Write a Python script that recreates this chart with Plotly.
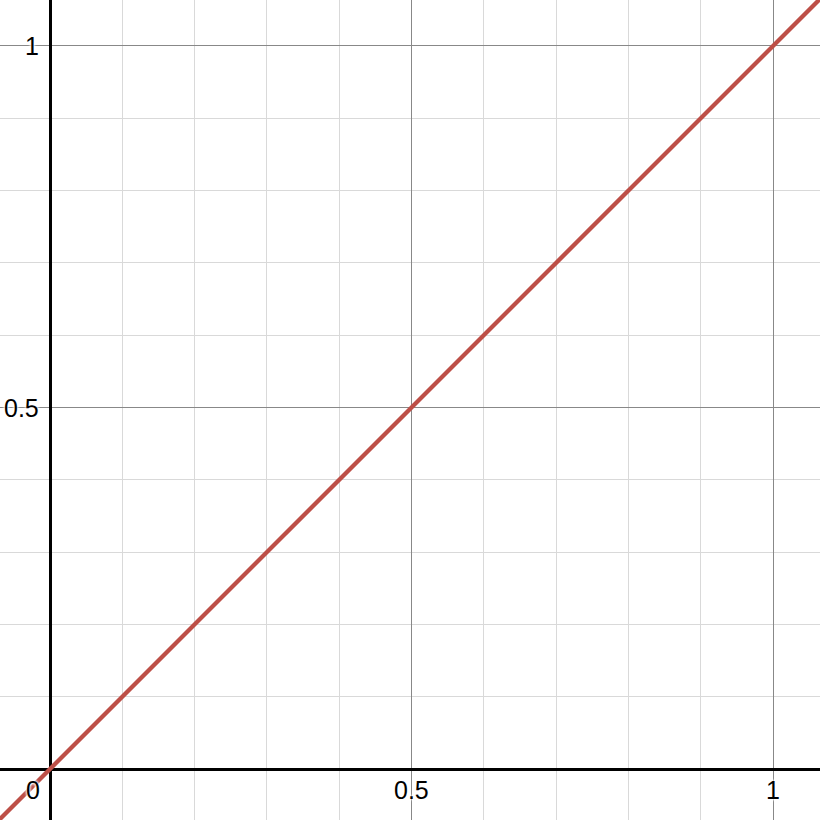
import plotly.graph_objects as go

# y = x line
line_x = [-0.1, 0, 0.5, 1, 1.1]
line_y = [-0.1, 0, 0.5, 1, 1.1]

x_ticks = [0.5, 1]
x_tick_labels = ["0.5", "1"]
y_ticks = [0.5, 1]
y_tick_labels = ["0.5", "1"]

RED = "#bd4f47"
FONT = "Liberation Sans, Arial, sans-serif"
HALO = "0px 0px 3px white, 0px 0px 3px white, 0px 0px 3px white"

fig = go.Figure()
fig.add_trace(go.Scatter(x=line_x, y=line_y, mode="lines",
                         line=dict(color=RED, width=4.3), hoverinfo="skip"))

annotations = []
for v, t in zip(x_ticks, x_tick_labels):
    annotations.append(dict(x=v, y=0, xref="x", yref="y", text=t, showarrow=False,
                            xanchor="center", yanchor="top", yshift=-5,
                            font=dict(family=FONT, size=25, color="black", shadow=HALO)))
for v, t in zip(y_ticks, y_tick_labels):
    annotations.append(dict(x=0, y=v, xref="x", yref="y", text=t, showarrow=False,
                            xanchor="right", yanchor="middle", xshift=-9,
                            font=dict(family=FONT, size=25, color="black", shadow=HALO)))
annotations.append(dict(x=0, y=0, xref="x", yref="y", text="0", showarrow=False,
                        xanchor="right", yanchor="top", xshift=-8, yshift=-5,
                        font=dict(family=FONT, size=25, color="black", shadow=HALO)))

fig.update_layout(
    width=820, height=820,
    margin=dict(l=0, r=0, t=0, b=0),
    plot_bgcolor="white", paper_bgcolor="white",
    showlegend=False,
    annotations=annotations,
    xaxis=dict(range=[-0.0692, 1.065], dtick=0.5, tick0=0, showticklabels=False,
               showgrid=True, gridcolor="#888888", gridwidth=1,
               zeroline=True, zerolinecolor="black", zerolinewidth=2.5,
               minor=dict(dtick=0.1, tick0=0, showgrid=True, gridcolor="#d9d9d9", gridwidth=1.3),
               fixedrange=True),
    yaxis=dict(range=[-0.0705, 1.0636], dtick=0.5, tick0=0, showticklabels=False,
               showgrid=True, gridcolor="#888888", gridwidth=1,
               zeroline=True, zerolinecolor="black", zerolinewidth=2.5,
               minor=dict(dtick=0.1, tick0=0, showgrid=True, gridcolor="#d9d9d9", gridwidth=1.3),
               fixedrange=True),
)

fig.write_html("out.html", config={"displayModeBar": False},
               post_script="document.body.style.margin='0';document.body.style.overflow='hidden';")
